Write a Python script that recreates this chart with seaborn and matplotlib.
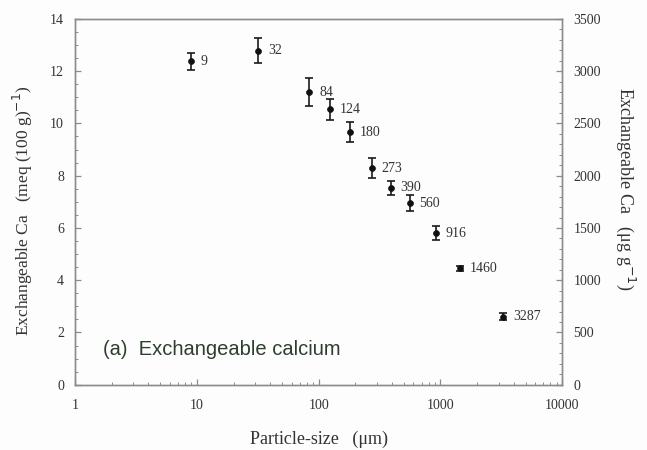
import numpy as np
import pandas as pd
import matplotlib
matplotlib.use("Agg")
import matplotlib.pyplot as plt
import seaborn as sns
from matplotlib.ticker import MultipleLocator, LogLocator, NullFormatter, FixedLocator

# Particle-size fractions (um) and exchangeable Ca with error half-widths
particle_size = [9, 32, 84, 124, 180, 273, 390, 560, 916, 1460, 3287]
exch_ca = [12.37, 12.79, 11.20, 10.55, 9.67, 8.28, 7.54, 6.95, 5.80, 4.46, 2.61]
exch_ca_err = [0.34, 0.48, 0.52, 0.40, 0.39, 0.38, 0.27, 0.31, 0.27, 0.10, 0.12]
point_labels = ["9", "32", "84", "124", "180", "273", "390", "560", "916", "1460", "3287"]

x_ticks = [1, 10, 100, 1000, 10000]
x_tick_labels = ["1", "10", "100", "1000", "10000"]
left_ticks = [0, 2, 4, 6, 8, 10, 12, 14]
right_ticks = [0, 500, 1000, 1500, 2000, 2500, 3000, 3500]

df = pd.DataFrame({"size": particle_size, "ca": exch_ca, "err": exch_ca_err, "label": point_labels})

sns.set_theme(style="ticks")
plt.rcParams["font.family"] = ["Liberation Serif", "DejaVu Serif"]

text_col = "#333333"
axis_col = "#8c8c8c"

fig = plt.figure(figsize=(6.47, 4.5), dpi=100)
fig.patch.set_facecolor("#fdfdfd")
ax = fig.add_axes([0.116, 0.145, 0.753, 0.813])
ax.set_facecolor("#fdfdfd")

ax.errorbar(df["size"], df["ca"], yerr=df["err"], fmt="none", ecolor="#1a1a1a",
            elinewidth=1.2, capsize=3.2, capthick=1.2, zorder=2)
sns.scatterplot(data=df, x="size", y="ca", ax=ax, color="#111111", s=18,
                marker="o", edgecolor="#111111", linewidth=0.5, zorder=3, legend=False)

for xv, yv, lab in zip(df["size"], df["ca"], df["label"]):
    ax.annotate(lab, (xv, yv), xytext=(7, 0), textcoords="offset points",
                ha="left", va="center", fontsize=10, color=text_col)

ax.set_xscale("log")
ax.set_xlim(1, 10000)
ax.set_ylim(0, 14)
ax.xaxis.set_major_locator(FixedLocator(x_ticks))
ax.set_xticklabels(x_tick_labels)
ax.xaxis.set_minor_locator(LogLocator(base=10, subs=np.arange(2, 10)))
ax.xaxis.set_minor_formatter(NullFormatter())
ax.yaxis.set_major_locator(FixedLocator(left_ticks))
ax.yaxis.set_minor_locator(MultipleLocator(0.5))

ax.set_xlabel("Particle-size   (\u03bcm)", fontsize=13, color=text_col, labelpad=14)
ax.set_ylabel("Exchangeable Ca   (meq (100 g)$^{-1}$)", fontsize=12.5, color=text_col)
ax.yaxis.set_label_coords(-0.082, 0.475)

ax2 = ax.twinx()
ax2.set_ylim(0, 3500)
ax2.yaxis.set_major_locator(FixedLocator(right_ticks))
ax2.yaxis.set_minor_locator(MultipleLocator(100))
ax2.set_ylabel("Exchangeable Ca   (\u03bcg g$^{-1}$)", fontsize=13, color=text_col,
               rotation=270, va="center")
ax2.yaxis.set_label_coords(1.13, 0.535)

for a in (ax, ax2):
    for sp in a.spines.values():
        sp.set_color(axis_col)
        sp.set_linewidth(1.0)
    a.tick_params(which="major", direction="in", length=4, width=0.9, color=axis_col,
                  labelsize=10, labelcolor=text_col, pad=8)
    a.tick_params(which="minor", direction="in", length=2.2, width=0.7, color=axis_col)
ax.tick_params(axis="x", pad=10)

ax.text(0.058, 0.095, "(a)  Exchangeable calcium", transform=ax.transAxes,
        fontsize=14.5, color="#2e3d2e", family=["Liberation Sans", "DejaVu Sans"],
        ha="left", va="center")

fig.savefig("out.png", dpi=100, facecolor=fig.get_facecolor())
